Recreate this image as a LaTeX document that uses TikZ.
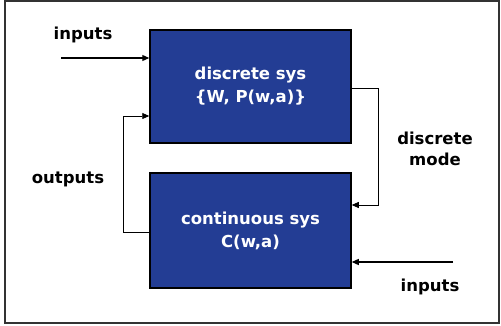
\documentclass[tikz,border=0pt]{standalone}
\usepackage{fontspec}
\setmainfont{DejaVu Sans}
\usetikzlibrary{positioning,arrows.meta}
\definecolor{sysblue}{RGB}{35,61,148}

\begin{document}
\begin{tikzpicture}[x=1pt, y=-1pt,
  sysbox/.style={rectangle, draw=black, line width=1.5pt, fill=sysblue, text=white, font=\bfseries\fontsize{16.5}{23}\selectfont, align=center, minimum width=201pt},
  lbl/.style={font=\bfseries\fontsize{16.5}{21}\selectfont, align=center, text=black},
  arr/.style={-{Triangle[length=7pt,width=6pt]}}]
\useasboundingbox (0,0) rectangle (501,326);
\draw[line width=1.6pt, black!80] (5,1) rectangle (499,323);

\node[sysbox, minimum height=113pt] (discrete) at (250.5,86.5) {discrete sys\\\{W, P(w,a)\}};
\node[sysbox, minimum height=115pt] (continuous) at (250.5,230.5) {continuous sys\\C(w,a)};

\node[lbl] (intop) at (83,35) {inputs};
\node[lbl] (outputs) at (68,179) {outputs};
\node[lbl] (mode) at (435,149) {discrete\\mode};
\node[lbl] (inbot) at (430,287) {inputs};

\coordinate (intopstart) at (61,58);
\coordinate (inbotstart) at (453,262);

\draw[arr, line width=1.2pt] (intopstart) -- (discrete.west |- intopstart);
\draw[arr, line width=1.2pt] (inbotstart) -- (continuous.east |- inbotstart);
\draw[arr, line width=0.8pt] (continuous.west |- 0,232) -| (123,116) -- (discrete.west |- 0,116);
\draw[arr, line width=0.8pt] (discrete.east |- 0,88) -| (378,205) -- (continuous.east |- 0,205);
\end{tikzpicture}
\end{document}
